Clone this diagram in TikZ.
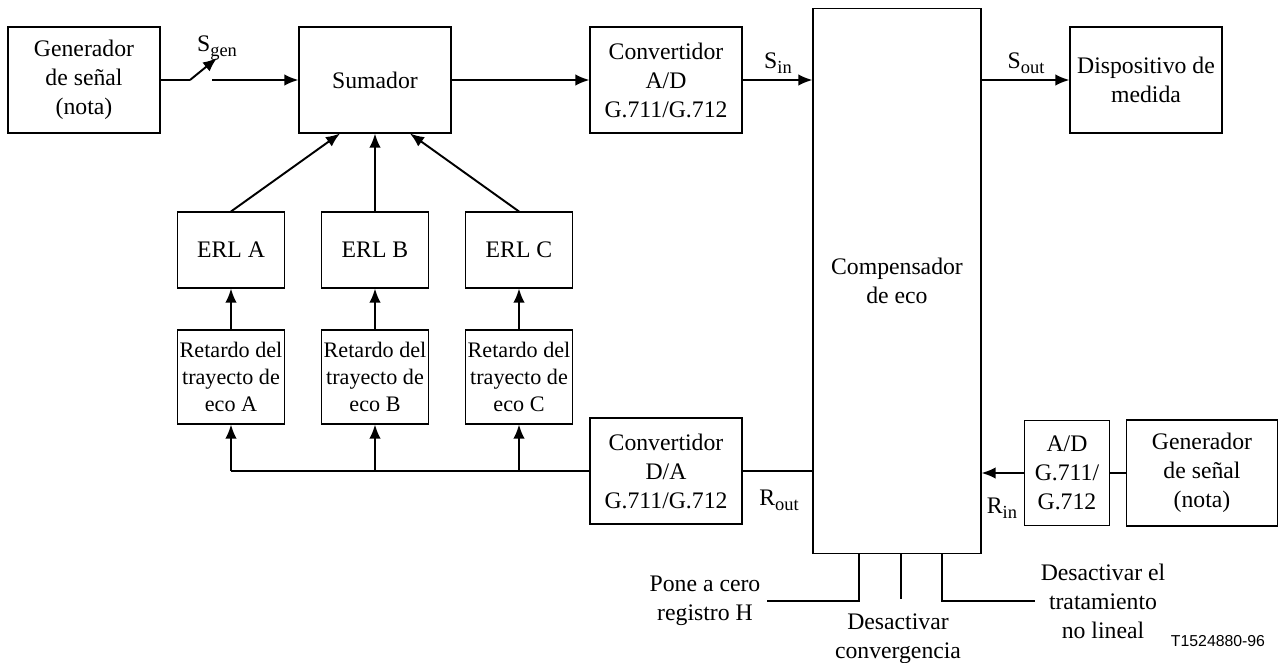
\documentclass[tikz,border=0pt]{standalone}
\usepackage{fontspec}
\setmainfont{Liberation Serif}
\newfontfamily\tagfont{Liberation Sans}
\usetikzlibrary{arrows.meta,positioning,calc}
\newcommand{\lowsub}[1]{\raisebox{-0.45ex}{\fontsize{10.5}{12}\selectfont #1}}

\begin{document}
\begin{tikzpicture}[x=0.02cm,y=-0.02cm,>={Latex[length=8pt,width=6.5pt]},
  every node/.style={font=\fontsize{13.5}{16.5}\selectfont,align=center},
  block/.style={draw,line width=0.6pt,inner sep=1pt,minimum width=3.04cm,minimum height=2.12cm},
  erlbox/.style={draw,line width=0.6pt,minimum width=2.14cm,minimum height=1.52cm},
  delaybox/.style={draw,line width=0.6pt,inner sep=0pt,minimum width=2.14cm,minimum height=1.88cm,
    font=\fontsize{12.6}{15.6}\selectfont},
  adbox/.style={draw,line width=0.6pt,inner sep=1pt,minimum width=1.7cm,minimum height=2.1cm},
  compbox/.style={draw,line width=0.6pt,minimum width=3.36cm,minimum height=10.9cm},
  sig/.style={->,line width=1.1pt},
  wire/.style={line width=0.6pt}]
\useasboundingbox (0,0) rectangle (1279,663);

% upper chain
\node[block] (gen1) at (84,80) {Generador\\de señal\\(nota)};
\node[block] (sum) at (375,80) {Sumador};
\node[block] (adc) at (666,80) {Convertidor\\A/D\\G.711/G.712};
\node[compbox] (comp) at (897,281) {Compensador\\de eco};
\node[block] (disp) at (1146,80) {Dispositivo de\\medida};

% echo paths
\foreach \n/\x in {A/231,B/375,C/519} {
  \node[erlbox] (erl\n) at (\x,250) {ERL \n};
  \node[delaybox] (ret\n) at (\x,377) {Retardo del\\trayecto de\\eco \n};
}

% lower chain
\node[block] (dac) at (666,471) {Convertidor\\D/A\\G.711/G.712};
\node[adbox] (adc2) at (1067,473) {A/D\\G.711/\\G.712};
\node[block,minimum width=3.02cm] (gen2) at (1202,473) {Generador\\de señal\\(nota)};

% switch
\coordinate (sw1) at (190,80);
\coordinate (sw2) at (217,58);
\coordinate (sw3) at (212,80);
\draw[wire] (gen1.east) -- (sw1);
\draw[sig] (sw1) -- (sw2);
\node (sgen) at (217,48) {S\lowsub{gen}};
\draw[sig] (sw3) -- (sum.west);

\draw[sig] (sum.east) -- (adc.west);
\draw[sig] (adc.east) -- (adc.east -| comp.west);
\node (sin) at (778,63) {S\lowsub{in}};
\draw[sig] (comp.east |- disp.west) -- (disp.west);
\node (sout) at (1026,63) {S\lowsub{out}};

\draw[sig] (erlA.north) -- ($(sum.south)+(-35,0)$);
\draw[sig] (erlB.north) -- (sum.south);
\draw[sig] (erlC.north) -- ($(sum.south)+(35,0)$);
\foreach \n in {A,B,C} {
  \draw[sig] (ret\n.north) -- (erl\n.south);
  \draw[sig] (dac.west -| ret\n.south) -- (ret\n.south);
}
\draw[wire] (dac.west) -- (dac.west -| retA.south);

\draw[wire] (dac.east) -- (dac.east -| comp.west);
\node (rout) at (779,500) {R\lowsub{out}};
\draw[sig] (adc2.west) -- (adc2.west -| comp.east);
\draw[wire] (gen2.west) -- (adc2.east);
\node (rin) at (1002,508) {R\lowsub{in}};

% control inputs
\node (pone) at (705,601) {Pone a cero\\registro H};
\node (conv) at (898,639) {Desactivar\\convergencia};
\node (nolin) at (1103,601) {Desactivar el\\tratamiento\\no lineal};
\draw[wire] ($(comp.south)+(-38,0)$) |- (pone.east);
\draw[line width=1.1pt] ($(comp.south)+(4,0)$) -- ($(comp.south)+(4,45)$);
\draw[wire] ($(comp.south)+(45,0)$) |- (nolin.west);

\node[font=\tagfont\fontsize{9}{11}\selectfont] (tag) at (1218,641) {T1524880-96};
\end{tikzpicture}
\end{document}
